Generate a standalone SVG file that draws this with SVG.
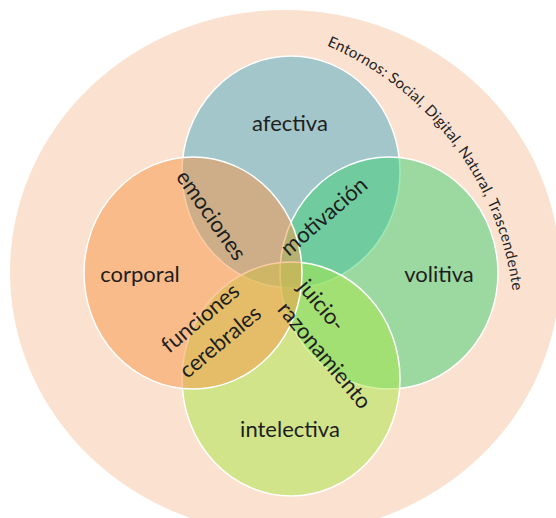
<svg xmlns="http://www.w3.org/2000/svg" width="556" height="518" viewBox="0 0 556 518">
<style>
.lbl{font-family:Lato,"Open Sans","Liberation Sans",sans-serif;font-size:22px;fill:#1e1e1e}
.sm{font-family:Lato,"Open Sans","Liberation Sans",sans-serif;font-size:15px;fill:#222}
.c{stroke:#fff;stroke-width:1.5;fill-opacity:0.5}
</style>
<defs>
<path id="arc" d="M326.7,45.6 A309,309 0 0 1 515,330"/>
</defs>
<rect width="556" height="518" fill="#fff"/>
<g id="entornos">
<ellipse cx="285" cy="272" rx="275" ry="262" fill="#FBE1CF"/>
<text class="sm"><textPath href="#arc" textLength="224" lengthAdjust="spacing">Entornos: Social, Digital, Natural,</textPath></text>
<text class="sm"><textPath href="#arc" startOffset="229" textLength="93" lengthAdjust="spacing">Trascendente</textPath></text>
</g>
<g id="afectiva">
<ellipse class="c" cx="291" cy="172" rx="109" ry="116" fill="#4BACC6"/>
</g>
<g id="volitiva">
<ellipse class="c" cx="389" cy="273" rx="109" ry="116" fill="#3ED172"/>
</g>
<g id="intelectiva">
<ellipse class="c" cx="291" cy="379" rx="109" ry="117" fill="#AAE746"/>
</g>
<g id="corporal">
<ellipse class="c" cx="193" cy="273" rx="109" ry="116" fill="#F79646"/>
</g>
<g id="labels">
<text class="lbl" x="290" y="131" text-anchor="middle">afectiva</text>
<text class="lbl" x="140" y="282" text-anchor="middle">corporal</text>
<text class="lbl" x="439" y="282" text-anchor="middle">volitiva</text>
<text class="lbl" x="290" y="437" text-anchor="middle">intelectiva</text>
<g transform="translate(210,216) rotate(55)"><text class="lbl" x="0" y="6" text-anchor="middle">emociones</text></g>
<g transform="translate(325,217.5) rotate(-41)"><text class="lbl" x="0" y="6" text-anchor="middle">motivación</text></g>
<g transform="translate(211.5,331.5) rotate(-40)"><text class="lbl" x="0" y="-10" text-anchor="middle">funciones</text><text class="lbl" x="0" y="21" text-anchor="middle">cerebrales</text></g>
<g transform="translate(323.5,356.5) rotate(50)"><text class="lbl" x="-70" y="-24">juicio-</text><text class="lbl" x="-66" y="6">razonamiento</text></g>
</g>
</svg>
